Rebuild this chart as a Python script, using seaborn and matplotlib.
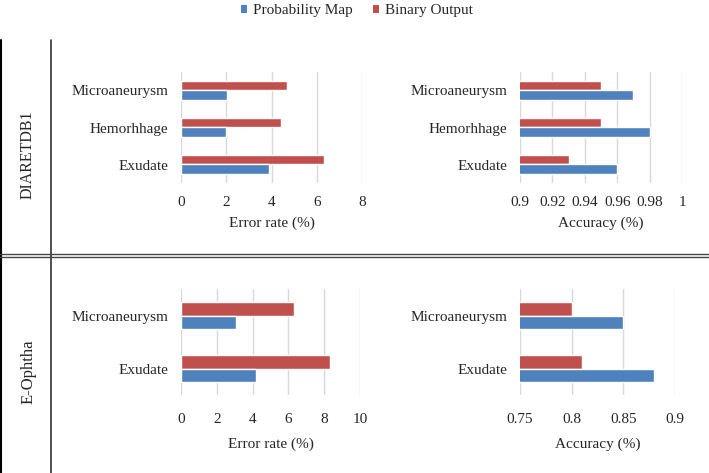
import matplotlib
matplotlib.use("Agg")
import matplotlib.pyplot as plt
import pandas as pd
import seaborn as sns
from matplotlib.lines import Line2D
from matplotlib.patches import Patch

# DIARETDB1
db1_lesions = ["Microaneurysm", "Hemorhhage", "Exudate"]
db1_err_prob = [2.05, 2.0, 3.9]
db1_err_bin = [4.7, 4.4, 6.3]
db1_acc_prob = [0.97, 0.98, 0.96]
db1_acc_bin = [0.95, 0.95, 0.93]

# E-Ophtha
eo_lesions = ["Microaneurysm", "Exudate"]
eo_err_prob = [3.1, 4.2]
eo_err_bin = [6.3, 8.3]
eo_acc_prob = [0.85, 0.88]
eo_acc_bin = [0.80, 0.81]

methods = ["Probability Map", "Binary Output"]
colors = {"Probability Map": "#4f81bd", "Binary Output": "#c0504d"}

W, H = 709, 473

sns.set_theme(style="white")
plt.rcParams["font.family"] = ["Liberation Serif", "DejaVu Serif"]


def long_table(lesions, prob, binary):
    return pd.DataFrame({
        "lesion": lesions * 2,
        "method": ["Probability Map"] * len(lesions) + ["Binary Output"] * len(lesions),
        "value": list(prob) + list(binary),
    })


def px_axes(fig, x0, x1, y0, y1):
    return fig.add_axes([x0 / W, 1 - y1 / H, (x1 - x0) / W, (y1 - y0) / H])


def draw(ax, lesions, prob, binary, xlim, xticks, ticklabels, xlabel, tpad, lpad):
    df = long_table(lesions, prob, binary)
    sns.barplot(data=df, y="lesion", x="value", hue="method", order=lesions,
                hue_order=["Binary Output", "Probability Map"], palette=colors,
                width=0.5, orient="h", ax=ax, legend=False, saturation=1)
    ax.set_xlim(*xlim)
    ax.set_ylim(len(lesions) - 0.5, -0.5)
    ax.set_xticks(xticks)
    ax.set_xticklabels(ticklabels)
    ax.set_xlabel(xlabel, fontsize=11, labelpad=lpad)
    ax.set_ylabel("")
    ax.xaxis.grid(True, color="#d9d9d9", linewidth=1)
    ax.set_axisbelow(True)
    for s in ax.spines.values():
        s.set_visible(False)
    ax.tick_params(axis="x", length=0, pad=tpad, labelsize=11)
    ax.tick_params(axis="y", length=0, pad=9, labelsize=11)


fig = plt.figure(figsize=(W / 100, H / 100), dpi=100)

ax1 = px_axes(fig, 181, 362, 72, 183)
draw(ax1, db1_lesions, db1_err_prob, db1_err_bin, (0, 8), [0, 2, 4, 6, 8],
     ["0", "2", "4", "6", "8"], "Error rate (%)", 9, 6)

ax2 = px_axes(fig, 520, 682, 72, 183)
draw(ax2, db1_lesions, db1_acc_prob, db1_acc_bin, (0.9, 1.0),
     [0.9, 0.92, 0.94, 0.96, 0.98, 1.0],
     ["0.9", "0.92", "0.94", "0.96", "0.98", "1"], "Accuracy (%)", 9, 6)

ax3 = px_axes(fig, 181, 360, 289, 395)
draw(ax3, eo_lesions, eo_err_prob, eo_err_bin, (0, 10), [0, 2, 4, 6, 8, 10],
     ["0", "2", "4", "6", "8", "10"], "Error rate (%)", 13, 8)

ax4 = px_axes(fig, 520, 675, 289, 395)
draw(ax4, eo_lesions, eo_acc_prob, eo_acc_bin, (0.75, 0.9),
     [0.75, 0.8, 0.85, 0.9], ["0.75", "0.8", "0.85", "0.9"],
     "Accuracy (%)", 13, 8)

# table frame
fig.add_artist(Line2D([1 / W, 1 / W], [0, 1 - 40 / H], color="black", lw=1.5))
fig.add_artist(Line2D([51 / W, 51 / W], [0, 1 - 40 / H], color="#333333", lw=1.2))
for y in (254.5, 257.5):
    fig.add_artist(Line2D([0, 1], [1 - y / H, 1 - y / H], color="#444444", lw=1))

fig.text(28 / W, 1 - 155 / H, "DIARETDB1", rotation=90, ha="center",
         va="center", fontsize=11.5)
fig.text(29 / W, 1 - 372 / H, "E-Ophtha", rotation=90, ha="center",
         va="center", fontsize=12)

handles = [Patch(facecolor=colors[m], edgecolor="none", label=m) for m in methods]
fig.legend(handles=handles, loc="upper center", bbox_to_anchor=(0.5035, 1.004),
           ncol=2, frameon=False, fontsize=11, handlelength=0.4,
           handleheight=0.4, handletextpad=0.4, columnspacing=1.3,
           borderaxespad=0.0)

fig.savefig("out.png", dpi=100)
